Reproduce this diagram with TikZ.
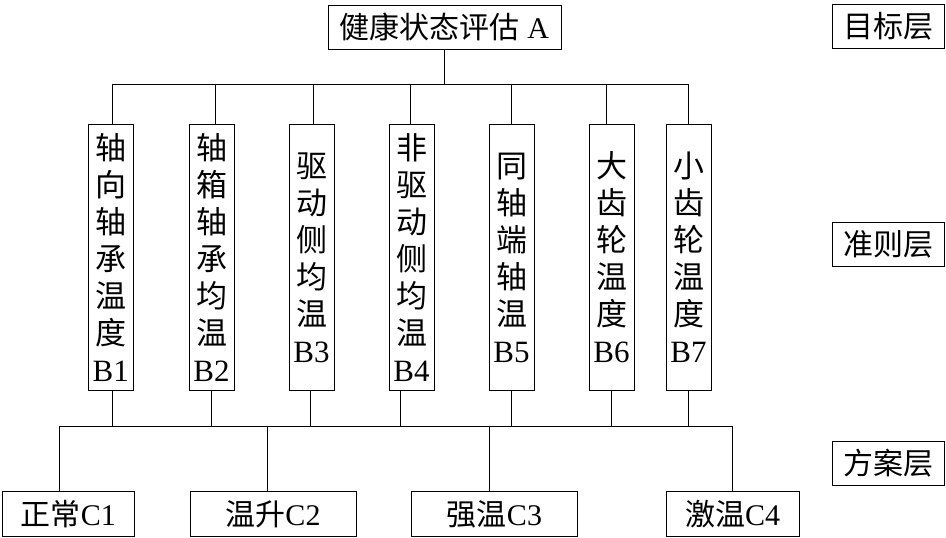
\documentclass[tikz,border=0pt]{standalone}
\usepackage{fontspec}
\setmainfont{Liberation Serif}
\newfontfamily\cjk{Noto Sans CJK SC}
\newcommand{\zh}[1]{{\cjk #1}}
\begin{document}
\begin{tikzpicture}[x=1pt,y=-1pt,
  box/.style={draw,line width=1pt,inner sep=0pt,align=center,font=\fontsize{30}{36}\selectfont},
  abox/.style={box,minimum width=233pt,minimum height=44pt},
  lbox/.style={box,minimum width=112pt,minimum height=44pt},
  bbox/.style={box,minimum width=45pt,minimum height=266pt,font=\fontsize{31}{37}\selectfont},
  cbox/.style={box,minimum height=45pt},
  wire/.style={line width=1pt}]
\useasboundingbox (0,0) rectangle (946,538);
% goal
\node[abox] (a) at (444.5,27) {\zh{健康状态评估} A};
% layer labels
\node[lbox] (l1) at (888,26.5) {\zh{目标层}};
\node[lbox] (l2) at (888,244) {\zh{准则层}};
\node[lbox] (l3) at (888,463) {\zh{方案层}};
% criteria
\node[bbox] (b1) at (110.8,257.5) {\zh{轴}\\\zh{向}\\\zh{轴}\\\zh{承}\\\zh{温}\\\zh{度}\\B1};
\node[bbox] (b2) at (211.5,257.5) {\zh{轴}\\\zh{箱}\\\zh{轴}\\\zh{承}\\\zh{均}\\\zh{温}\\B2};
\node[bbox] (b3) at (311.5,257.5) {\zh{驱}\\\zh{动}\\\zh{侧}\\\zh{均}\\\zh{温}\\B3};
\node[bbox] (b4) at (411.5,257.5) {\zh{非}\\\zh{驱}\\\zh{动}\\\zh{侧}\\\zh{均}\\\zh{温}\\B4};
\node[bbox] (b5) at (511.5,257.5) {\zh{同}\\\zh{轴}\\\zh{端}\\\zh{轴}\\\zh{温}\\B5};
\node[bbox] (b6) at (611.5,257.5) {\zh{大}\\\zh{齿}\\\zh{轮}\\\zh{温}\\\zh{度}\\B6};
\node[bbox] (b7) at (688.5,257.5) {\zh{小}\\\zh{齿}\\\zh{轮}\\\zh{温}\\\zh{度}\\B7};
% alternatives
\node[cbox,minimum width=132pt] (c1) at (68.3,514) {\zh{正常}C1};
\node[cbox,minimum width=166pt] (c2) at (273,514) {\zh{温升}C2};
\node[cbox,minimum width=166pt] (c3) at (494.5,514) {\zh{强温}C3};
\node[cbox,minimum width=133pt] (c4) at (732.7,514) {\zh{激温}C4};
% buses
\coordinate (bt) at (444.5,84);
\coordinate (bb) at (444.5,426);
\draw[wire] (a.south) -- (bt);
\draw[wire] ([xshift=1.2pt]b1.north |- bt) -- (b7.north |- bt);
\draw[wire] ([xshift=1.2pt]b1.north) -- ([xshift=1.2pt]b1.north |- bt);
\draw[wire] ([xshift=3.5pt]b2.north) -- ([xshift=3.5pt]b2.north |- bt);
\draw[wire] ([xshift=1.5pt]b3.north) -- ([xshift=1.5pt]b3.north |- bt);
\draw[wire] ([xshift=-1pt]b4.north) -- ([xshift=-1pt]b4.north |- bt);
\draw[wire] (b5.north) -- (b5.north |- bt);
\draw[wire] ([xshift=-5pt]b6.north) -- ([xshift=-5pt]b6.north |- bt);
\draw[wire] (b7.north) -- (b7.north |- bt);
% lower bus
\draw[wire] ([xshift=-9pt]c1.north |- bb) -- (c4.north |- bb);
\draw[wire] ([xshift=1.2pt]b1.south) -- ([xshift=1.2pt]b1.south |- bb);
\draw[wire] (b2.south) -- (b2.south |- bb);
\draw[wire] ([xshift=-1pt]b3.south) -- ([xshift=-1pt]b3.south |- bb);
\draw[wire] ([xshift=-11pt]b4.south) -- ([xshift=-11pt]b4.south |- bb);
\draw[wire] (b5.south) -- (b5.south |- bb);
\draw[wire] (b6.south) -- (b6.south |- bb);
\draw[wire] (b7.south) -- (b7.south |- bb);
\draw[wire] ([xshift=-9pt]c1.north) -- ([xshift=-9pt]c1.north |- bb);
\draw[wire] ([xshift=-6pt]c2.north) -- ([xshift=-6pt]c2.north |- bb);
\draw[wire] ([xshift=-5pt]c3.north) -- ([xshift=-5pt]c3.north |- bb);
\draw[wire] (c4.north) -- (c4.north |- bb);
\end{tikzpicture}
\end{document}
